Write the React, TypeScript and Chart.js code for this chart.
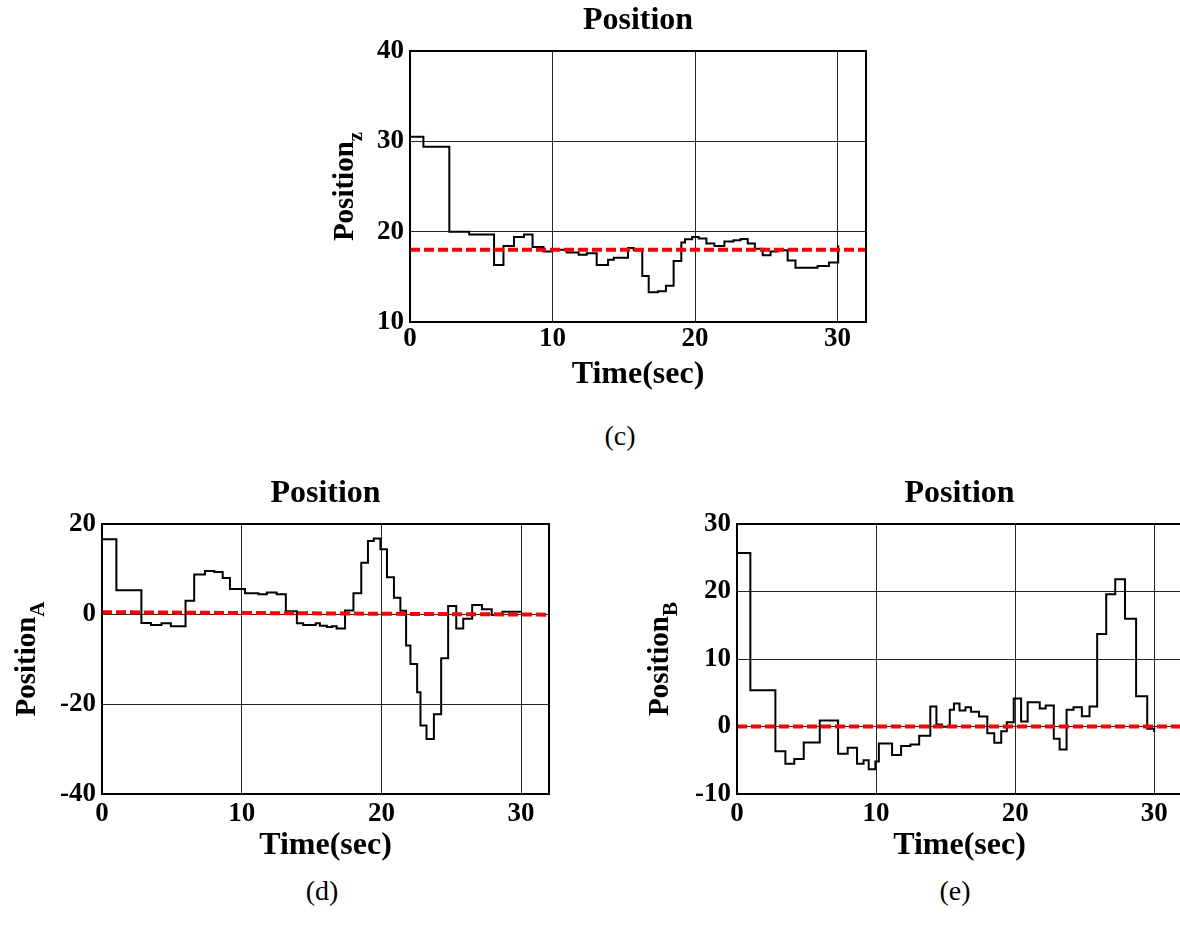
import React, { useEffect, useRef } from "react";
import { Chart, registerables } from "chart.js";

Chart.register(...registerables);

const FONT = '"Liberation Serif", "Times New Roman", serif';

// ---------- (c) Position_z ----------
const cTimes = [0, 0.94, 2.76, 4.15, 5.9, 6.56, 7.3, 8.0, 8.6, 9.37, 9.95, 11.0, 11.83, 12.4, 13.1, 13.9, 14.3, 15.3, 15.7, 16.3, 16.75, 17.4, 17.96, 18.5, 19.04, 19.3, 19.8, 20.26, 20.8, 21.36, 22.06, 22.7, 23.2, 23.7, 24.2, 24.75, 25.3, 25.8, 26.5, 27.05, 28.6, 29.4, 30.05];
const cValues = [30.5, 29.4, 20.0, 19.7, 16.3, 18.4, 19.4, 19.7, 18.3, 17.8, 18.0, 17.7, 17.45, 17.6, 16.3, 16.9, 17.1, 18.2, 17.95, 15.1, 13.3, 13.4, 14.0, 16.75, 18.8, 19.15, 19.4, 19.25, 18.7, 18.4, 18.9, 19.05, 19.2, 18.7, 18.1, 17.4, 17.8, 17.95, 16.8, 16.0, 16.2, 16.6, 18.5];
const cRefTimes = [0, 32];
const cRefValues = [18, 18];
const cXTicks = [0, 10, 20, 30];
const cYTicks = [10, 20, 30, 40];

// ---------- (d) Position_A ----------
const dTimes = [0, 0, 1.03, 2.82, 3.5, 4.26, 4.93, 5.98, 6.6, 7.37, 8.04, 8.64, 9.16, 10.24, 11.2, 11.8, 12.5, 13.16, 13.95, 14.4, 15.3, 15.6, 16.1, 16.46, 16.8, 17.4, 18.0, 18.56, 19.04, 19.45, 19.93, 20.4, 20.9, 21.36, 21.77, 22.08, 22.56, 22.8, 23.23, 23.76, 24.28, 24.78, 25.36, 25.86, 26.5, 27.2, 27.9, 28.66, 30.0];
const dValues = [10.1, 16.6, 5.26, -2.0, -2.45, -2.07, -2.74, 2.96, 8.8, 9.56, 9.33, 8.0, 5.56, 4.6, 4.37, 4.8, 4.37, 0.6, -2.07, -2.44, -2.07, -2.6, -2.9, -2.74, -3.2, 0.8, 4.6, 11.4, 16.2, 16.8, 14.4, 8.15, 3.6, 0.74, -7.0, -11.1, -17.4, -24.8, -27.8, -22.3, -9.85, 1.78, -3.2, -1.04, 2.0, 1.04, -0.22, 0.52, 0.52];
const dRefTimes = [0, 32];
const dRefValues = [0.4, -0.15];
const dXTicks = [0, 10, 20, 30];
const dYTicks = [-40, -20, 0, 20];

// ---------- (e) Position_B ----------
const eTimes = [0, 0, 0.96, 2.76, 3.48, 4.12, 4.8, 5.95, 7.27, 7.96, 8.63, 9.1, 9.47, 9.95, 10.2, 11.15, 11.8, 12.47, 13.1, 13.9, 14.34, 14.75, 15.3, 15.6, 16.0, 16.43, 16.83, 17.4, 18.0, 18.5, 19.0, 19.4, 19.9, 20.43, 20.9, 21.77, 22.2, 22.78, 23.2, 23.7, 24.2, 24.8, 25.35, 25.9, 26.55, 27.2, 27.9, 28.7, 29.5, 30.0, 30.0];
const eValues = [2.5, 25.7, 5.37, -3.65, -5.5, -4.8, -2.36, 0.89, -4.04, -3.15, -5.5, -5.0, -6.35, -5.2, -2.5, -4.24, -2.9, -2.66, -1.38, 2.96, 0.3, -0.05, 2.5, 3.4, 2.36, 2.86, 2.17, 1.48, -0.99, -2.41, -0.69, 0.64, 4.14, 0.74, 3.6, 2.66, 3.1, -1.82, -3.4, 2.5, 2.86, 1.53, 2.96, 13.7, 19.6, 21.8, 15.96, 4.48, -0.34, -0.34, -0.8];
const eRefTimes = [0, 32];
const eRefValues = [0, 0];
const eXTicks = [0, 10, 20, 30];
const eYTicks = [-10, 0, 10, 20, 30];

const titleText = "Position";
const xLabelText = "Time(sec)";
const yMainText = "Position";

type Area = { left: number; top: number; right: number; bottom: number };
type Spec = {
  left: number; top: number; width: number; height: number; area: Area;
  times: number[]; values: number[]; refTimes: number[]; refValues: number[];
  xTicks: number[]; yTicks: number[]; xMax: number;
  ySub: string; yLabelOffset: number; xTickPad: number; xLabelOffset: number;
};

const specs: Spec[] = [
  {
    left: 300, top: 0, width: 600, height: 400,
    area: { left: 110, top: 51, right: 566, bottom: 322 },
    times: cTimes, values: cValues, refTimes: cRefTimes, refValues: cRefValues,
    xTicks: cXTicks, yTicks: cYTicks, xMax: 32,
    ySub: "z", yLabelOffset: 57, xTickPad: 1, xLabelOffset: 61,
  },
  {
    left: 0, top: 460, width: 590, height: 410,
    area: { left: 102, top: 64, right: 549, bottom: 334 },
    times: dTimes, values: dValues, refTimes: dRefTimes, refValues: dRefValues,
    xTicks: dXTicks, yTicks: dYTicks, xMax: 32,
    ySub: "A", yLabelOffset: 67, xTickPad: 4, xLabelOffset: 60,
  },
  {
    left: 620, top: 460, width: 600, height: 410,
    area: { left: 117, top: 64, right: 562, bottom: 334 },
    times: eTimes, values: eValues, refTimes: eRefTimes, refValues: eRefValues,
    xTicks: eXTicks, yTicks: eYTicks, xMax: 32,
    ySub: "B", yLabelOffset: 69, xTickPad: 4, xLabelOffset: 60,
  },
];

function buildConfig(s: Spec): any {
  const tickFont = { family: FONT, size: 27, weight: "bold" as const };
  const decor = {
    id: "decor",
    afterDatasetsDraw(chart: any) {
      const { ctx, chartArea: a } = chart;
      ctx.save();
      ctx.strokeStyle = "#000";
      ctx.lineWidth = 2;
      ctx.strokeRect(a.left, a.top, a.right - a.left, a.bottom - a.top);
      ctx.restore();
    },
    afterDraw(chart: any) {
      const { ctx, chartArea: a } = chart;
      const cx = (a.left + a.right) / 2;
      const cy = (a.top + a.bottom) / 2;
      ctx.save();
      ctx.fillStyle = "#000";
      ctx.textAlign = "center";
      ctx.textBaseline = "alphabetic";
      ctx.font = `bold 32px ${FONT}`;
      ctx.fillText(titleText, cx, a.top - 22);
      ctx.fillText(xLabelText, cx, a.bottom + s.xLabelOffset);
      // y label with subscript
      ctx.font = `bold 29px ${FONT}`;
      const wMain = ctx.measureText(yMainText).width;
      ctx.font = `bold 21px ${FONT}`;
      const wSub = ctx.measureText(s.ySub).width;
      const total = wMain + wSub;
      ctx.translate(a.left - s.yLabelOffset, cy);
      ctx.rotate(-Math.PI / 2);
      ctx.textAlign = "left";
      ctx.font = `bold 29px ${FONT}`;
      ctx.fillText(yMainText, -total / 2, 0);
      ctx.font = `bold 21px ${FONT}`;
      ctx.fillText(s.ySub, -total / 2 + wMain, 9);
      ctx.restore();
    },
  };
  return {
    type: "line",
    data: {
      datasets: [
        {
          label: "Reference",
          data: s.refTimes.map((t, i) => ({ x: t, y: s.refValues[i] })),
          borderColor: "#ff0000",
          borderWidth: 4,
          borderDash: [10, 4],
          pointRadius: 0,
          fill: false,
        },
        {
          label: "Position",
          data: s.times.map((t, i) => ({ x: t, y: s.values[i] })),
          borderColor: "#000000",
          borderWidth: 2,
          stepped: true,
          pointRadius: 0,
          fill: false,
        },
      ],
    },
    options: {
      responsive: false,
      animation: false,
      devicePixelRatio: 1,
      layout: { padding: { left: 0, top: s.area.top, right: s.width - s.area.right, bottom: 0 } },
      plugins: { legend: { display: false }, title: { display: false }, tooltip: { enabled: false } },
      scales: {
        x: {
          type: "linear",
          min: 0,
          max: s.xMax,
          afterBuildTicks: (sc: any) => { sc.ticks = s.xTicks.map((v) => ({ value: v })); },
          afterFit: (sc: any) => { sc.height = s.height - s.area.bottom; },
          ticks: { font: tickFont, color: "#000", padding: s.xTickPad, maxRotation: 0, autoSkip: false },
          grid: { color: "rgba(0,0,0,0.85)", lineWidth: 1, drawTicks: false },
          border: { display: false },
        },
        y: {
          type: "linear",
          min: s.yTicks[0],
          max: s.yTicks[s.yTicks.length - 1],
          afterBuildTicks: (sc: any) => { sc.ticks = s.yTicks.map((v) => ({ value: v })); },
          afterFit: (sc: any) => { sc.width = s.area.left; },
          ticks: { font: tickFont, color: "#000", padding: 6, autoSkip: false },
          grid: { color: "rgba(0,0,0,0.85)", lineWidth: 1, drawTicks: false },
          border: { display: false },
        },
      },
    },
    plugins: [decor],
  };
}

function Panel({ spec }: { spec: Spec }) {
  const ref = useRef<HTMLCanvasElement>(null);
  useEffect(() => {
    const canvas = ref.current;
    if (!canvas) return;
    const chart = new Chart(canvas, buildConfig(spec));
    return () => chart.destroy();
  }, [spec]);
  return (
    <canvas
      ref={ref}
      width={spec.width}
      height={spec.height}
      style={{ position: "absolute", left: spec.left, top: spec.top, width: spec.width, height: spec.height }}
    />
  );
}

const captionStyle = (cx: number, top: number): React.CSSProperties => ({
  position: "absolute",
  left: cx - 40,
  width: 80,
  top,
  textAlign: "center",
  fontFamily: FONT,
  fontSize: 28,
  lineHeight: "28px",
  color: "#000",
});

export default function App() {
  return (
    <div style={{ position: "fixed", left: 0, top: 0, width: 1180, height: 928, overflow: "hidden", background: "#fff" }}>
      {specs.map((s, i) => (
        <Panel key={i} spec={s} />
      ))}
      <div style={captionStyle(620, 422)}>(c)</div>
      <div style={captionStyle(322, 877)}>(d)</div>
      <div style={captionStyle(955, 877)}>(e)</div>
    </div>
  );
}
